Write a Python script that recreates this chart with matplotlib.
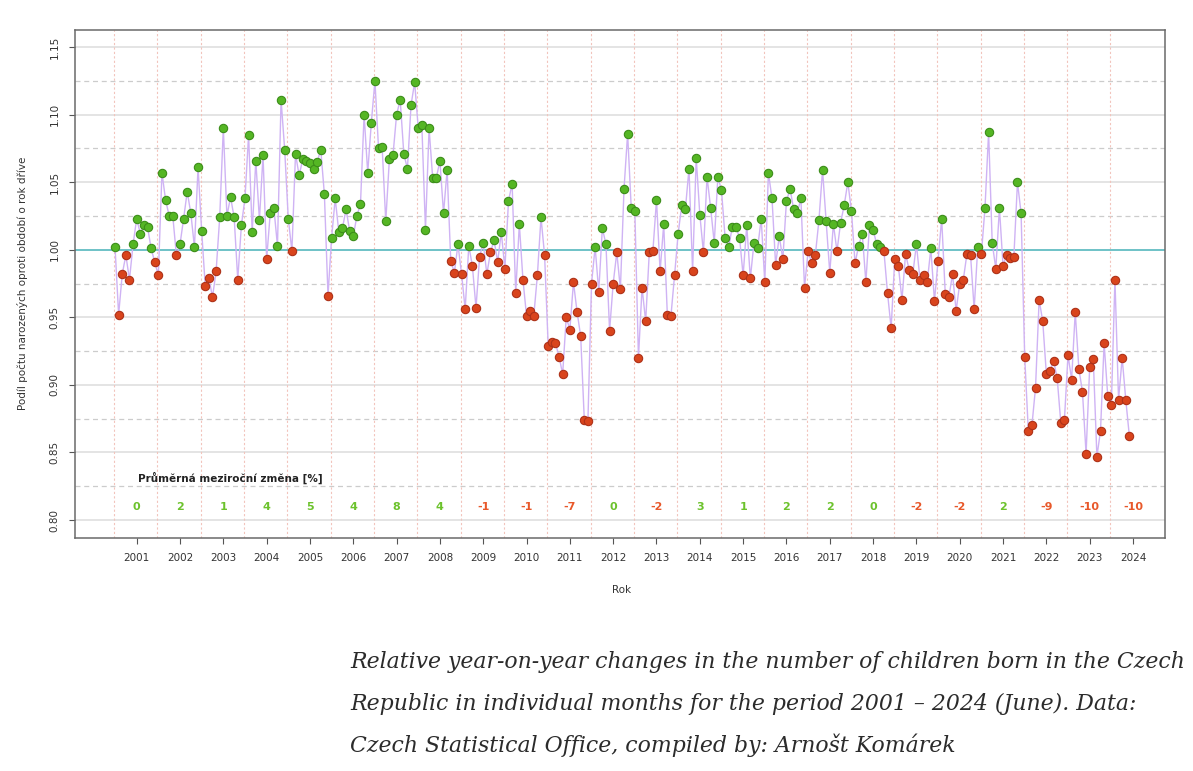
import numpy as np
import matplotlib
matplotlib.use("Agg")
import matplotlib.pyplot as plt

years = list(range(2001, 2025))
avg_change = [0, 2, 1, 4, 5, 4, 8, 4, -1, -1, -7, 0, -2, 3, 1, 2, 2, 0, -2, -2, 2, -9, -10, -10]

# births in month / births in same month a year earlier, Jan 2001 .. Jun 2024
ratio = [
    1.002, 0.952, 0.982, 0.996, 0.978, 1.004, 1.023, 1.012, 1.018, 1.017, 1.001, 0.991,  # 2001
    0.981, 1.057, 1.037, 1.025, 1.025, 0.996, 1.004, 1.023, 1.043, 1.027, 1.002, 1.061,  # 2002
    1.014, 0.973, 0.979, 0.965, 0.984, 1.024, 1.090, 1.025, 1.039, 1.024, 0.978, 1.018,  # 2003
    1.038, 1.085, 1.013, 1.066, 1.022, 1.070, 0.993, 1.027, 1.031, 1.003, 1.111, 1.074,  # 2004
    1.023, 0.999, 1.071, 1.055, 1.067, 1.066, 1.064, 1.060, 1.065, 1.074, 1.041, 0.966,  # 2005
    1.009, 1.038, 1.013, 1.016, 1.030, 1.014, 1.010, 1.025, 1.034, 1.100, 1.057, 1.094,  # 2006
    1.125, 1.075, 1.076, 1.021, 1.067, 1.070, 1.100, 1.111, 1.071, 1.060, 1.107, 1.124,  # 2007
    1.090, 1.092, 1.015, 1.090, 1.053, 1.053, 1.066, 1.027, 1.059, 0.992, 0.983, 1.004,  # 2008
    0.982, 0.956, 1.003, 0.988, 0.957, 0.995, 1.005, 0.982, 0.998, 1.007, 0.991, 1.013,  # 2009
    0.986, 1.036, 1.049, 0.968, 1.019, 0.978, 0.951, 0.955, 0.951, 0.981, 1.024, 0.996,  # 2010
    0.929, 0.932, 0.931, 0.921, 0.908, 0.950, 0.941, 0.976, 0.954, 0.936, 0.874, 0.873,  # 2011
    0.975, 1.002, 0.969, 1.016, 1.004, 0.940, 0.975, 0.998, 0.971, 1.045, 1.086, 1.031,  # 2012
    1.029, 0.920, 0.972, 0.947, 0.998, 0.999, 1.037, 0.984, 1.019, 0.952, 0.951, 0.981,  # 2013
    1.012, 1.033, 1.030, 1.060, 0.984, 1.068, 1.026, 0.998, 1.054, 1.031, 1.005, 1.054,  # 2014
    1.044, 1.009, 1.002, 1.017, 1.017, 1.009, 0.981, 1.018, 0.979, 1.005, 1.001, 1.023,  # 2015
    0.976, 1.057, 1.038, 0.989, 1.010, 0.993, 1.036, 1.045, 1.030, 1.027, 1.038, 0.972,  # 2016
    0.999, 0.990, 0.996, 1.022, 1.059, 1.021, 0.983, 1.019, 0.999, 1.020, 1.033, 1.050,  # 2017
    1.029, 0.990, 1.003, 1.012, 0.976, 1.018, 1.015, 1.004, 1.002, 0.999, 0.968, 0.942,  # 2018
    0.993, 0.988, 0.963, 0.997, 0.985, 0.982, 1.004, 0.978, 0.981, 0.976, 1.001, 0.962,  # 2019
    0.992, 1.023, 0.967, 0.965, 0.982, 0.955, 0.975, 0.978, 0.997, 0.996, 0.956, 1.002,  # 2020
    0.997, 1.031, 1.087, 1.005, 0.986, 1.031, 0.988, 0.996, 0.994, 0.995, 1.050, 1.027,  # 2021
    0.921, 0.866, 0.870, 0.898, 0.963, 0.947, 0.908, 0.910, 0.918, 0.905, 0.872, 0.874,  # 2022
    0.922, 0.904, 0.954, 0.912, 0.895, 0.849, 0.913, 0.919, 0.847, 0.866, 0.931, 0.892,  # 2023
    0.885, 0.978, 0.889, 0.920, 0.889, 0.862,                                            # 2024
]

caption = [
    "Relative year-on-year changes in the number of children born in the Czech",
    "Republic in individual months for the period 2001 \u2013 2024 (June). Data:",
    "Czech Statistical Office, compiled by: Arno\u0161t Kom\u00e1rek",
]

r = np.array(ratio)
t = years[0] + np.arange(len(r)) / 12
up = r >= 1

fig = plt.figure(figsize=(11.93, 7.71), dpi=100)
ax = fig.add_axes([0.0629, 0.3022, 0.9136, 0.6588])

# grid
for v in np.arange(0.80, 1.151, 0.05):
    ax.axhline(v, color="#dcdcdc", lw=1.1, zorder=0)
for v in np.arange(0.825, 1.13, 0.05):
    ax.axhline(v, color="#cccccc", lw=0.9, ls=(0, (4, 3)), zorder=0)
for y in years:
    ax.axvline(y - 0.02, color="#f2c4bc", lw=0.8, ls=(0, (2, 2)), zorder=0)
ax.axhline(1.0, color="#6ec3c8", lw=1.4, zorder=1)

ax.plot(t, r, color="#cfb3f4", lw=1.0, zorder=2)
ax.scatter(t[up], r[up], s=36, c="#55b624", edgecolors="#3c8d1a", linewidths=0.8, zorder=3)
ax.scatter(t[~up], r[~up], s=36, c="#d9441c", edgecolors="#ad3118", linewidths=0.8, zorder=3)

ax.set_xlim(2000.077, 2025.238)
ax.set_ylim(0.7867, 1.1626)

ax.set_xticks(np.array(years) + 0.5)
ax.set_xticklabels([str(y) for y in years], fontsize=7.5, color="#333333")
yt = np.arange(0.80, 1.151, 0.05)
ax.set_yticks(yt)
ax.set_yticklabels([f"{v:.2f}" for v in yt], fontsize=7.5, color="#333333",
                   rotation=90, va="center")
ax.tick_params(axis="both", direction="out", length=4, width=0.8, color="#555555", pad=7)
for s in ax.spines.values():
    s.set_color("#6a6a6a")
    s.set_linewidth(1.1)

# yearly averages
ax.text(2001.53, 0.8315, "Pr\u016fm\u011brn\u00e1 meziro\u010dn\u00ed zm\u011bna [%]",
        fontsize=7.5, fontweight="bold", color="#222222", ha="left", va="center")
for y, c in zip(years, avg_change):
    ax.text(y + 0.5, 0.8097, str(c), fontsize=8, fontweight="bold",
            color="#6cc22c" if c >= 0 else "#e8582a", ha="center", va="center")

fig.text(23 / 1193, 1 - 283 / 771, "Pod\u00edl po\u010dtu narozen\u00fdch oproti obdob\u00ed o rok d\u0159\u00edve",
         rotation=90, fontsize=7.5, color="#333333", ha="center", va="center")
fig.text(622 / 1193, 1 - 590 / 771, "Rok", fontsize=7.5, color="#333333", ha="center", va="center")

for k, line in enumerate(caption):
    fig.text(350 / 1193, 1 - (662 + 41.5 * k) / 771, line, fontsize=15.8, style="italic",
             family="DejaVu Serif", color="#2b2b2b", ha="left", va="center")

fig.savefig("out.png", dpi=100)
